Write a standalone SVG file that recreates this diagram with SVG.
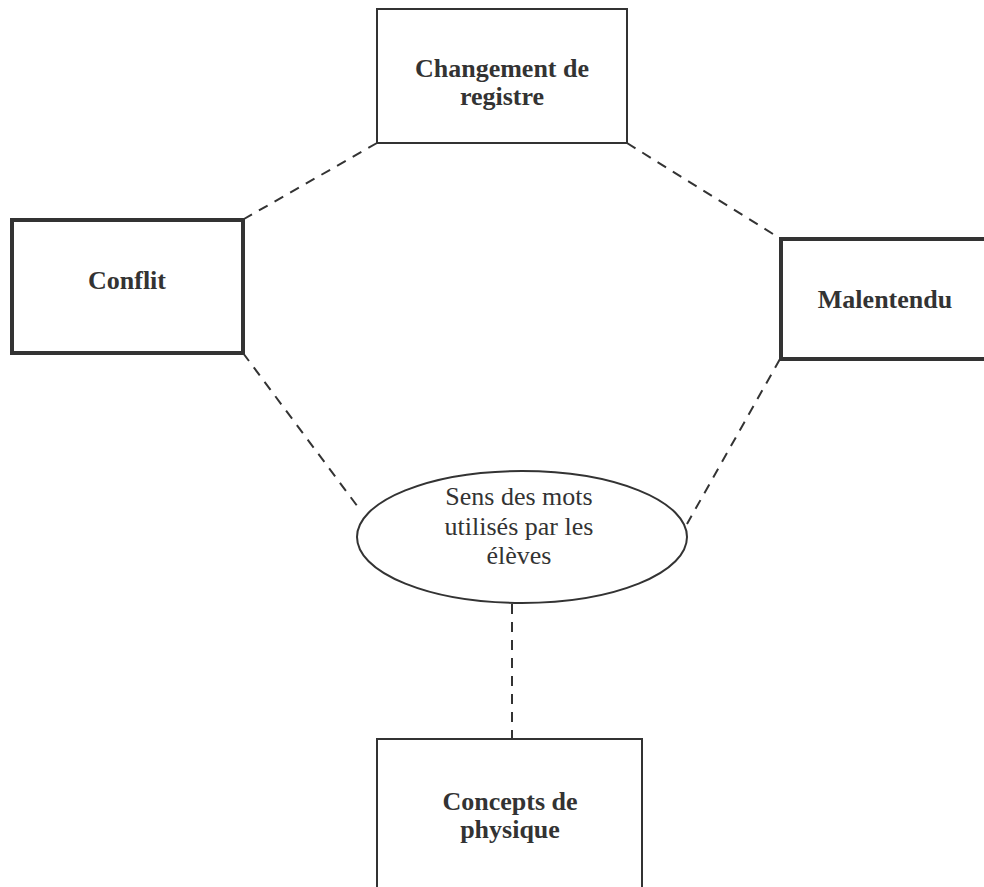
<svg xmlns="http://www.w3.org/2000/svg" width="984" height="887" viewBox="0 0 984 887">
<style>
.box{fill:#fff;stroke:#333;stroke-width:2}
.thick{fill:#fff;stroke:#333;stroke-width:4}
.lbl{font-family:"Liberation Serif",serif;font-size:26px;font-weight:bold;fill:#333;text-anchor:middle}
.txt{font-family:"Liberation Serif",serif;font-size:26px;fill:#333;text-anchor:middle}
.dash{stroke:#333;stroke-width:2;stroke-dasharray:10 8;fill:none}
</style>
<rect width="984" height="887" fill="#fff"/>
<g id="connectors">
<line class="dash" x1="377" y1="143" x2="244" y2="219"/>
<line class="dash" x1="627" y1="143" x2="781" y2="239"/>
<line class="dash" x1="243" y1="353" x2="358" y2="507"/>
<line class="dash" x1="780" y1="359" x2="687" y2="524"/>
<line class="dash" x1="512" y1="604" x2="512" y2="739"/>
</g>
<g id="changement">
<rect class="box" x="377" y="9" width="250" height="134"/>
<text class="lbl" x="502" y="77">Changement de</text>
<text class="lbl" x="502" y="105">registre</text>
</g>
<g id="conflit">
<rect class="thick" x="12" y="220" width="231" height="133"/>
<text class="lbl" x="127" y="289">Conflit</text>
</g>
<g id="malentendu">
<rect class="thick" x="781" y="239" width="215" height="120"/>
<text class="lbl" x="885" y="308">Malentendu</text>
</g>
<g id="sens">
<ellipse class="box" cx="522" cy="537" rx="165" ry="66"/>
<text class="txt" x="519" y="505">Sens des mots</text>
<text class="txt" x="519" y="535">utilisés par les</text>
<text class="txt" x="519" y="564">élèves</text>
</g>
<g id="concepts">
<rect class="box" x="377" y="739" width="265" height="160"/>
<text class="lbl" x="510" y="810">Concepts de</text>
<text class="lbl" x="510" y="838">physique</text>
</g>
</svg>
